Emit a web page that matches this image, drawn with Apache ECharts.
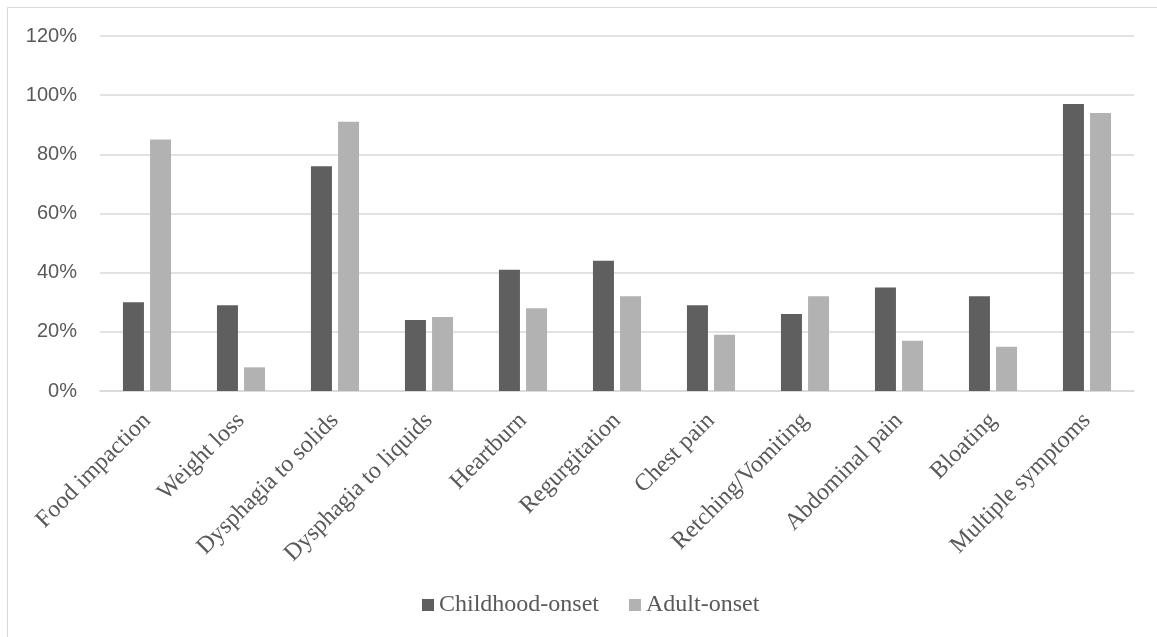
<!DOCTYPE html>
<html>
<head>
<meta charset="utf-8">
<script src="https://cdn.jsdelivr.net/npm/echarts@6/dist/echarts.min.js"></script>
<style>
html,body{margin:0;padding:0;background:#fff;}
#chart{width:1157px;height:637px;}
</style>
</head>
<body>
<div id="chart"></div>
<script>
const categories = ["Food impaction","Weight loss","Dysphagia to solids","Dysphagia to liquids","Heartburn","Regurgitation","Chest pain","Retching/Vomiting","Abdominal pain","Bloating","Multiple symptoms"];
const childhoodOnset = [30, 29, 76, 24, 41, 44, 29, 26, 35, 32, 97];
const adultOnset = [85, 8, 91, 25, 28, 32, 19, 32, 17, 15, 94];
const seriesNames = ["Childhood-onset", "Adult-onset"];
const yTicks = [0, 20, 40, 60, 80, 100, 120];

const chart = echarts.init(document.getElementById('chart'), null, {renderer: 'canvas'});
chart.setOption({
  animation: false,
  backgroundColor: '#ffffff',
  graphic: [{
    type: 'rect', silent: true,
    shape: {x: 7.5, y: 7.5, width: 1160, height: 640},
    style: {fill: 'none', stroke: '#d9d9d9', lineWidth: 1}
  }],
  grid: {left: 100, right: 23, top: 36, bottom: 246, containLabel: false},
  legend: {
    data: seriesNames,
    bottom: 15,
    left: 417,
    itemWidth: 12, itemHeight: 12, itemGap: 30,
    icon: 'rect',
    textStyle: {fontFamily: 'Liberation Serif', fontSize: 24, color: '#595959'}
  },
  xAxis: {
    type: 'category',
    data: categories,
    axisLine: {show: true, lineStyle: {color: '#d9d9d9', width: 1.5}},
    axisTick: {show: false},
    axisLabel: {
      rotate: 45, interval: 0, margin: 26,
      fontFamily: 'Liberation Serif', fontSize: 24, color: '#595959'
    }
  },
  yAxis: {
    type: 'value',
    min: yTicks[0], max: yTicks[yTicks.length - 1], interval: 20,
    axisLine: {show: false},
    axisTick: {show: false},
    splitLine: {lineStyle: {color: '#d9d9d9', width: 1.5}},
    axisLabel: {
      margin: 23,
      fontFamily: 'Liberation Sans', fontSize: 20, color: '#595959',
      formatter: v => v + '%'
    }
  },
  series: [
    {
      name: seriesNames[0], type: 'bar', data: childhoodOnset,
      barWidth: 21, barGap: '29%',
      itemStyle: {color: '#5f5f5f'}
    },
    {
      name: seriesNames[1], type: 'bar', data: adultOnset,
      barWidth: 21, barGap: '29%',
      itemStyle: {color: '#b2b2b2'}
    }
  ]
});
</script>
</body>
</html>
